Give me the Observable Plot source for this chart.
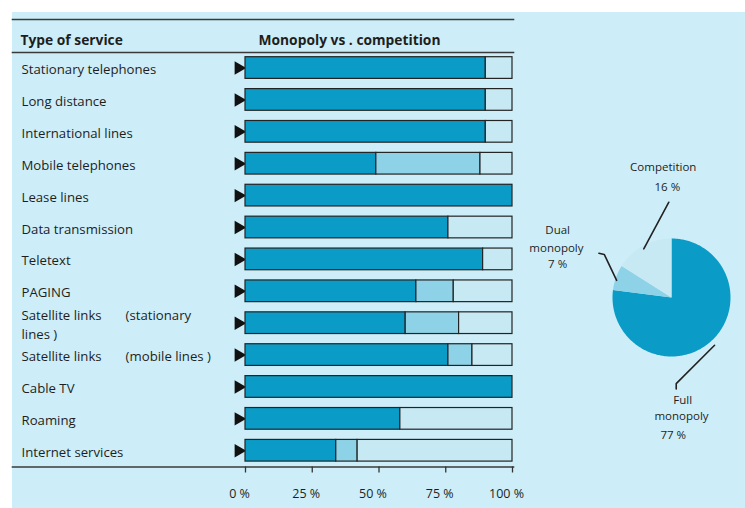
<!DOCTYPE html>
<html>
<head>
<meta charset="utf-8">
<script src="https://cdn.jsdelivr.net/npm/d3@7"></script>
<script src="https://cdn.jsdelivr.net/npm/@observablehq/plot@0.6"></script>
<style>
  html, body { margin: 0; padding: 0; background: #ffffff; }
  #wrap { position: relative; width: 745px; height: 508px; overflow: hidden; background: #ffffff; }
  #panel { position: absolute; left: 12px; top: 12px; width: 733px; height: 496px; background: #cdeef8; }
  #wrap svg { position: absolute; left: 0; top: 0; }
</style>
</head>
<body>
<div id="wrap"><div id="panel"></div></div>
<script>
// ---- data ----
const services = [
  "Stationary telephones", "Long distance", "International lines", "Mobile telephones",
  "Lease lines", "Data transmission", "Teletext", "PAGING",
  "Satellite links (stationary lines)", "Satellite links (mobile lines)", "Cable TV", "Roaming", "Internet services"
];
const serviceLabels = [
  "Stationary telephones", "Long distance", "International lines", "Mobile telephones",
  "Lease lines", "Data transmission", "Teletext", "PAGING",
  "Satellite links\u00a0\u00a0\u00a0\u00a0\u00a0\u00a0\u00a0(stationary\nlines )",
  "Satellite links\u00a0\u00a0\u00a0\u00a0\u00a0\u00a0\u00a0(mobile lines )",
  "Cable TV", "Roaming", "Internet services"
];
const fullMonopoly = [90, 90, 90, 49, 100, 76, 89, 64, 60, 76, 100, 58, 34];
const dualMonopoly = [0, 0, 0, 39, 0, 0, 0, 14, 20, 9, 0, 0, 8];
const competition  = [10, 10, 10, 12, 0, 24, 11, 22, 20, 15, 0, 42, 58];
const types = ["Full monopoly", "Dual monopoly", "Competition"];
const typeColors = ["#0a9cc6", "#8dd2e6", "#c6e9f3"];
const xTicks = [0, 25, 50, 75, 100];

const pieTypes = ["Full monopoly", "Dual monopoly", "Competition"];
const pieValues = [77, 7, 16];
const pieLabels = [["Full", "monopoly", "77 %"], ["Dual", "monopoly", "7 %"], ["Competition", "16 %"]];
// label anchor positions and leader polylines, in pie-radius units (x right, y down)
const pieLabelPos = [[[0.19, 1.75], [0.17, 2.02], [0.03, 2.34]],
                     [[-1.93, -1.14], [-1.95, -0.84], [-1.93, -0.56]],
                     [[-0.14, -2.2], [-0.07, -1.87]]];
const pieLeaders = [[[0.73, 0.81], [0.08, 1.46], [0.08, 1.55]],
                    [[-1.23, -0.75], [-1.14, -0.73], [-0.93, -0.29]],
                    [[-0.47, -0.825], [-0.045, -1.615]]];

// ---- build tables ----
const rows = [];
services.forEach((s, i) => {
  [fullMonopoly[i], dualMonopoly[i], competition[i]].forEach((v, j) => {
    if (v > 0) rows.push({service: s, type: types[j], value: v});
  });
});

const font = "'Open Sans', 'DejaVu Sans', sans-serif";
const ink = "#1e1e1e";

const bars = Plot.plot({
  width: 745, height: 508,
  marginTop: 19, marginBottom: 41.5, marginLeft: 12, marginRight: 232,
  style: {fontFamily: font, fontSize: "13.2px", color: ink, background: "transparent", overflow: "visible"},
  x: {domain: [0, 100], range: [245, 512]},
  y: {type: "band", domain: services, range: [46.5, 471.3], padding: 0.32, round: false, axis: null},
  color: {domain: types, range: typeColors},
  marks: [
    Plot.frame({anchor: "top", stroke: "#3a3a3a", strokeWidth: 1.6}),
    Plot.frame({anchor: "top", insetTop: 33, stroke: "#3a3a3a", strokeWidth: 1.6}),
    Plot.frame({anchor: "bottom", stroke: "#3a3a3a", strokeWidth: 1.6}),
    Plot.text(["Type of service"], {frameAnchor: "top-left", dx: 8, dy: 16, textAnchor: "start", fontWeight: "bold", fontSize: 13.8, fill: ink}),
    Plot.text(["Monopoly vs . competition"], {frameAnchor: "top-left", dx: 246, dy: 16, textAnchor: "start", fontWeight: "bold", fontSize: 13.8, fill: ink}),
    Plot.text(services, {y: d => d, frameAnchor: "left", dx: 9, textAnchor: "start",
      text: (d, i) => serviceLabels[i], lineHeight: 1.42, lineAnchor: "middle", fill: ink, fontSize: 13.2}),
    Plot.dot(services, {x: () => 0, y: d => d, symbol: "triangle", r: 5, rotate: 90, fill: "#111", stroke: null, dx: -7}),
    Plot.barX(rows, {x: "value", y: "service", fill: "type", stroke: "#232323", strokeWidth: 1.2}),
    Plot.axisX({ticks: xTicks, tickFormat: () => "", tickSize: 6, anchor: "bottom",
      stroke: "#333", strokeWidth: 1.3, label: null}),
    Plot.axisX({ticks: xTicks, tickFormat: d => d + " %", tickSize: 0, tickPadding: 22, anchor: "bottom",
      fill: ink, fontSize: 12.5, label: null, dx: -6})
  ]
});
document.getElementById("wrap").appendChild(bars);

// ---- pie ----
const total = d3.sum(pieValues);
const piePts = [];
let acc = 0;
pieValues.forEach((v, i) => {
  const a0 = acc / total * 360, a1 = (acc + v) / total * 360;
  acc += v;
  piePts.push({type: pieTypes[i], x: 0, y: 0});
  const n = Math.max(2, Math.ceil(a1 - a0));
  for (let k = 0; k <= n; k++) {
    const a = (a0 + (a1 - a0) * k / n) * Math.PI / 180;
    piePts.push({type: pieTypes[i], x: Math.sin(a), y: -Math.cos(a)});
  }
  piePts.push({type: pieTypes[i], x: 0, y: 0});
});
const leaderPts = [];
pieLeaders.forEach((pts, i) => pts.forEach(p => leaderPts.push({id: i, x: p[0], y: p[1]})));
const labelRows = [];
pieLabels.forEach((lines, i) => lines.forEach((t, j) => labelRows.push({text: t, x: pieLabelPos[i][j][0], y: pieLabelPos[i][j][1]})));

const pie = Plot.plot({
  width: 745, height: 508, margin: 0,
  style: {fontFamily: font, fontSize: "11.5px", color: ink, background: "transparent", overflow: "visible", pointerEvents: "none"},
  x: {domain: [-1, 1], range: [612, 730], axis: null},
  y: {domain: [-1, 1], range: [238, 356], axis: null},
  color: {domain: pieTypes, range: typeColors},
  marks: [
    Plot.line(piePts, {x: "x", y: "y", z: "type", fill: "type", stroke: null}),
    Plot.line(leaderPts, {x: "x", y: "y", z: "id", stroke: "#222", strokeWidth: 1.6}),
    Plot.text(labelRows, {x: "x", y: "y", text: "text", fill: ink, fontSize: 11.5})
  ]
});
document.getElementById("wrap").appendChild(pie);
</script>
</body>
</html>
